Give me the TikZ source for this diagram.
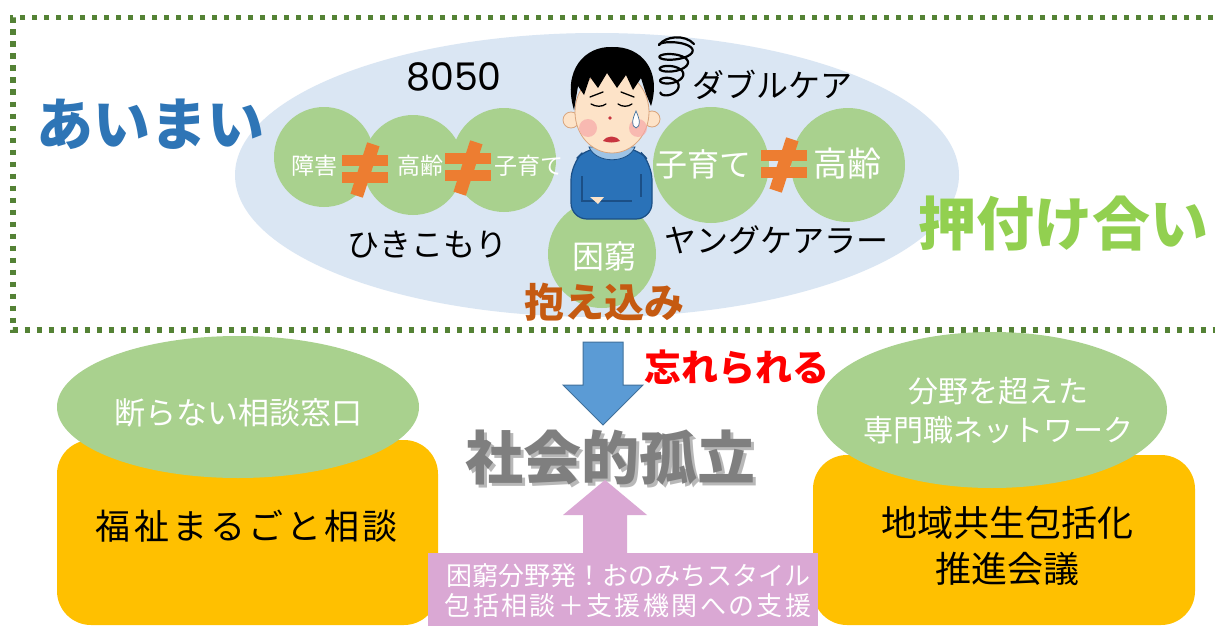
\documentclass[tikz,border=0pt]{standalone}
\usepackage{fontspec}
\setmainfont{Noto Sans CJK JP}
\newfontfamily\jpwide[LetterSpace=9]{Noto Sans CJK JP}
\newfontfamily\digits{Poppins}
\usetikzlibrary{shapes.geometric}

\definecolor{sky}{HTML}{DAE6F3}
\definecolor{leaf}{HTML}{A9D18E}
\definecolor{amber}{HTML}{FFC000}
\definecolor{rust}{HTML}{ED7D31}
\definecolor{framegreen}{HTML}{548235}
\definecolor{ocean}{HTML}{2E75B6}
\definecolor{lime}{HTML}{92D050}
\definecolor{clay}{HTML}{C55A11}
\definecolor{arrowblue}{HTML}{5B9BD5}
\definecolor{arrowedge}{HTML}{41719C}
\definecolor{lilac}{HTML}{DAA8D4}
\definecolor{sweater}{HTML}{2A72B8}
\definecolor{sweaterline}{HTML}{1B4F86}
\definecolor{skin}{HTML}{FDE3C8}
\definecolor{skinline}{HTML}{D9A47C}
\definecolor{collar}{HTML}{9DC3E6}
\definecolor{blush}{HTML}{F7A8A8}
\definecolor{lipred}{HTML}{C8353F}
\definecolor{isolgray}{HTML}{7F7F7F}

\newcommand\fsz[2]{\fontsize{#1}{#2}\selectfont}

\tikzset{
  blob/.style={circle, fill=leaf, draw=none, inner sep=0pt},
  label/.style={inner sep=0pt, outer sep=0pt},
  framedots/.style={draw=framegreen, line width=5.5pt, dash pattern=on 5.5pt off 6.5pt},
  noteq/.pic={
    \fill[rust] (-23,-15) rectangle (23,-4);
    \fill[rust] (-23,2) rectangle (23,13);
    \fill[rust, rotate=-18] (-6.5,-27) rectangle (6.5,27);
  }
}

\begin{document}
\begin{tikzpicture}[x=1pt, y=-1pt]
\useasboundingbox (0,0) rectangle (1215,626);
\fill[white] (0,0) rectangle (1215,626);

% dotted frame around the upper half
\draw[framedots] (1225,17.5) -- (13,17.5) -- (13,330) -- (1225,330);

% cloud of overlapping issues
\node[ellipse, fill=sky, minimum width=724pt, minimum height=284pt, inner sep=0pt] (cloud) at (597,175) {};

\node[blob, minimum size=100pt] (c1) at (324,157) {};
\node[blob, minimum size=100pt] (c2) at (413,165) {};
\node[blob, minimum size=104pt] (c3) at (504,160) {};
\node[blob, minimum size=116pt] (c4) at (711,165) {};
\node[blob, minimum size=114pt] (c5) at (848,165) {};
\node[blob, minimum size=108pt] (c6) at (602,254) {};

% worried person
\filldraw[fill=sweater, draw=sweaterline, line width=1.2pt, rounded corners=16pt]
  (571,219) -- (571,164) -- (588,147) -- (636,147) -- (652,164) -- (652,219) -- cycle;
\filldraw[fill=collar, draw=sweaterline, line width=.8pt]
  (589,147) -- (635,147) .. controls (628,164) and (596,164) .. (589,147) -- cycle;
\draw[sweaterline, line width=1.2pt] (582,176) -- (582,201) -- (632,201);
\draw[sweaterline, line width=1.2pt] (641,174) -- (641,197);
\fill[skin] (590,197) -- (604,197) -- (598,204) -- cycle;
\filldraw[fill=skin, draw=skinline, line width=.8pt] (571,120) circle (8);
\filldraw[fill=skin, draw=skinline, line width=.8pt] (652,119) circle (8);
\filldraw[fill=skin, draw=skinline, line width=.8pt] (612,112) ellipse (37 and 41);
\fill[blush, opacity=.7] (588,128) circle (9);
\fill[blush, opacity=.7] (638,128) circle (9);
\fill[black] (574,110) .. controls (562,70) and (585,46) .. (612,47)
  .. controls (641,46) and (662,70) .. (651,106) -- (646,94) -- (641,78) -- (633,90)
  -- (626,75) -- (617,88) -- (607,73) -- (598,88) -- (590,77) -- (584,95) -- (578,86) -- cycle;
\draw[black, line width=1.3pt, line cap=round] (590,97) -- (603,92);
\draw[black, line width=1.3pt, line cap=round] (621,92) -- (634,97);
\draw[black, line width=1.3pt, line cap=round] (591,104) .. controls (596,107) and (602,107) .. (606,104);
\draw[black, line width=1.3pt, line cap=round] (618,104) .. controls (622,107) and (628,107) .. (632,104);
\fill[lipred] (610,118) circle (1.8);
\fill[lipred] (603,141) .. controls (607,135) and (616,135) .. (620,141)
  .. controls (614,143) and (609,143) .. (603,141) -- cycle;
\filldraw[fill=white, draw=arrowedge, line width=.7pt] (636,111) .. controls (632,120) and (631,126) .. (636,128)
  .. controls (641,126) and (640,120) .. (636,111) -- cycle;

% stress swirl: a loose coil that narrows and drifts left towards the bottom
\draw[black, line width=2.2pt, line cap=round, line join=round] plot[smooth, domain=0:1440, samples=150]
  ({677-0.006*\x+(18-0.007*\x)*cos(\x+180)}, {45+0.033*\x+5.5*sin(\x+180)});
\draw[black, line width=2.2pt, line cap=round] (659,45) .. controls (665,36) and (685,34) .. (694,44);

% labels inside the cloud
\node[label, font=\fsz{23}{28}, text=white] (t1) at (314,166) {障害};
\node[label, font=\fsz{23}{28}, text=white] (t2) at (420,166) {高齢};
\node[label, font=\fsz{23}{28}, text=white] (t3) at (529,166) {子育て};
\node[label, font=\fsz{32}{38}, text=white] (t4) at (703,164) {子育て};
\node[label, font=\fsz{34}{40}, text=white] (t5) at (847,164) {高齢};
\node[label, font=\fsz{32}{38}, text=white] (t6) at (604,256) {困窮};
\pic at (365,170) {noteq};
\pic at (468,168) {noteq};
\pic at (784,165) {noteq};

\node[label, font=\digits\fsz{38}{44}] (t7) at (454,77) {8050};
\node[label, font=\fsz{32}{38}] (t8) at (772,85) {ダブルケア};
\node[label, font=\fsz{32}{38}] (t9) at (427,245) {ひきこもり};
\node[label, font=\fsz{32}{38}] (t10) at (776,240) {ヤングケアラー};
\node[label, font=\bfseries\fsz{40}{46}, text=clay] (t11) at (604,302) {抱え込み};

\node[label, font=\bfseries\fsz{57}{62}, text=ocean] (t12) at (150,124) {あいまい};
\node[label, font=\bfseries\fsz{58}{64}, text=lime] (t13) at (1063,224) {押付け合い};

% centre: social isolation
\fill[arrowblue, draw=arrowedge, line width=1pt]
  (583,342) -- (623,342) -- (623,385) -- (643,385) -- (603,425) -- (563,385) -- (583,385) -- cycle;
\node[label, font=\bfseries\fsz{37}{44}, text=red] (t14) at (737,367) {忘れられる};
\node[label, font=\bfseries\fsz{58}{64}, text=black, opacity=.28] (isoshadow) at (613,461) {社会的孤立};
\node[label, font=\bfseries\fsz{58}{64}, text=isolgray] (iso) at (610,458) {社会的孤立};

% left pillar
\fill[amber, rounded corners=34pt] (57,440) rectangle (438,625);
\node[ellipse, fill=leaf, minimum width=362pt, minimum height=142pt, inner sep=0pt] (e1) at (238,407) {};
\node[label, font=\fsz{31}{36}, text=white] (t15) at (238,413) {断らない相談窓口};
\node[label, font=\jpwide\fsz{35}{42}] (t16) at (247,526) {福祉まるごと相談};

% right pillar
\fill[amber, rounded corners=34pt] (813,455) rectangle (1195,625);
\node[ellipse, fill=leaf, minimum width=350pt, minimum height=156pt, inner sep=0pt] (e2) at (992,410) {};
\node[label, font=\fsz{30}{39}, text=white, align=center] (t17) at (998,411) {分野を超えた\\専門職ネットワーク};
\node[label, font=\fsz{36}{46}, align=center] (t18) at (1007,546) {地域共生包括化\\推進会議};

% lower arrow and its caption box
\fill[lilac] (605,480) -- (647,515) -- (627,515) -- (627,556) -- (583,556) -- (583,515) -- (563,515) -- cycle;
\fill[lilac] (428,553) rectangle (818,626);
\node[label, font=\fsz{26}{30}, text=white] (t19) at (628,576) {困窮分野発！おのみちスタイル};
\node[label, font=\jpwide\fsz{26}{30}, text=white] (t20) at (628,606) {包括相談＋支援機関への支援};
\end{tikzpicture}
\end{document}
